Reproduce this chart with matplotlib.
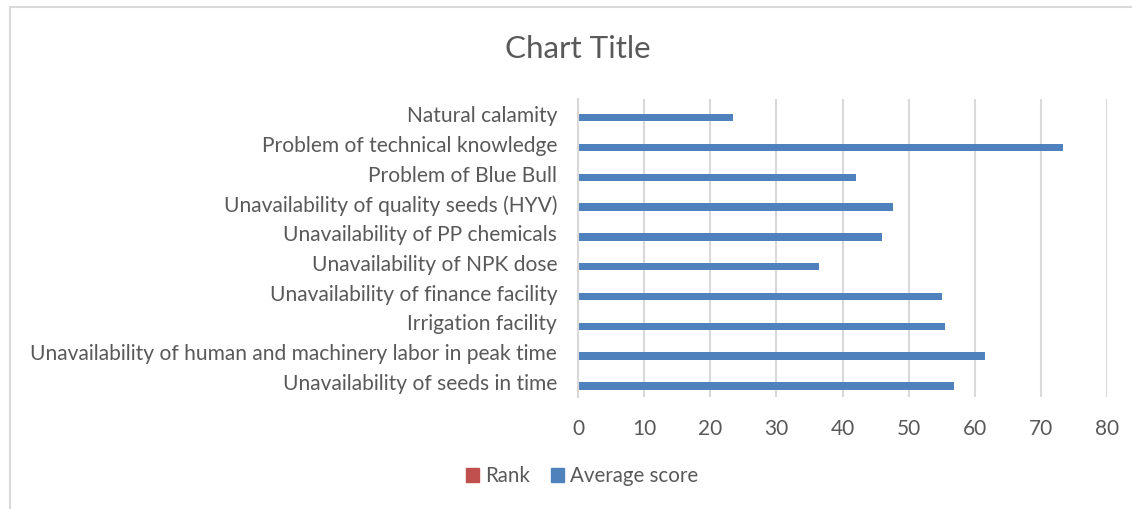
import matplotlib
matplotlib.use("Agg")
import matplotlib.pyplot as plt
from matplotlib.patches import Patch
from matplotlib.lines import Line2D
import numpy as np

plt.rcParams['font.family'] = ['Lato', 'DejaVu Sans']

categories = [
    "Unavailability of seeds in time",
    "Unavailability of human and machinery labor in peak time",
    "Irrigation facility",
    "Unavailability of finance facility",
    "Unavailability of NPK dose",
    "Unavailability of PP chemicals",
    "Unavailability of quality seeds (HYV)",
    "Problem of Blue Bull",
    "Problem of technical knowledge",
    "Natural calamity",
]
average_score = [56.9, 61.5, 55.5, 55.0, 36.4, 45.9, 47.7, 42.1, 73.4, 23.5]
rank = [0, 0, 0, 0, 0, 0, 0, 0, 0, 0]
xticks = [0, 10, 20, 30, 40, 50, 60, 70, 80]

W, H = 1132, 509
fig = plt.figure(figsize=(W / 100, H / 100), dpi=100)
ax = fig.add_axes([578 / W, 1 - 397 / H, (1107 - 578) / W, (397 - 99) / H])

grey = "#595959"
blue = "#4f81bd"
red = "#c0504d"

y = np.arange(len(categories))
ax.barh(y + 0.14, rank, height=0.25, color=red, label="Rank", zorder=3)
ax.barh(y - 0.13, average_score, height=0.25, color=blue, label="Average score", zorder=3)

ax.set_xlim(0, 80)
ax.set_ylim(-0.5, len(categories) - 0.5)
ax.set_xticks(xticks)
ax.set_xticklabels([str(t) for t in xticks])
ax.set_yticks(y)
ax.set_yticklabels(categories)
ax.tick_params(axis='x', length=0, pad=15.5, labelsize=15, labelcolor=grey)
ax.tick_params(axis='y', length=0, pad=15, labelsize=15.1, labelcolor=grey)
ax.grid(axis='x', color="#d9d9d9", linewidth=1.5, zorder=0)
for s in ["top", "right", "bottom"]:
    ax.spines[s].set_visible(False)
ax.spines["left"].set_color("#d9d9d9")
ax.spines["left"].set_linewidth(1.5)
ax.spines["left"].set_zorder(4)

fig.text(578 / W, 1 - 49 / H, "Chart Title", ha="center", va="center",
         fontsize=22.6, color=grey)

handles = [Patch(color=red, label="Rank"), Patch(color=blue, label="Average score")]
fig.legend(handles=handles, loc="center", bbox_to_anchor=(582 / W, 1 - 476 / H),
           ncol=2, frameon=False, fontsize=14.8, labelcolor=grey,
           handlelength=0.65, handleheight=0.65, handletextpad=0.3, columnspacing=1.0)

# chart border (left and top edges visible)
fig.add_artist(Line2D([10 / W, 10 / W], [0, 1 - 7 / H], transform=fig.transFigure,
                      color="#d9d9d9", linewidth=1.5))
fig.add_artist(Line2D([10 / W, 1], [1 - 7 / H, 1 - 7 / H], transform=fig.transFigure,
                      color="#d9d9d9", linewidth=1.5))

fig.savefig("out.png", dpi=100, facecolor="white")
